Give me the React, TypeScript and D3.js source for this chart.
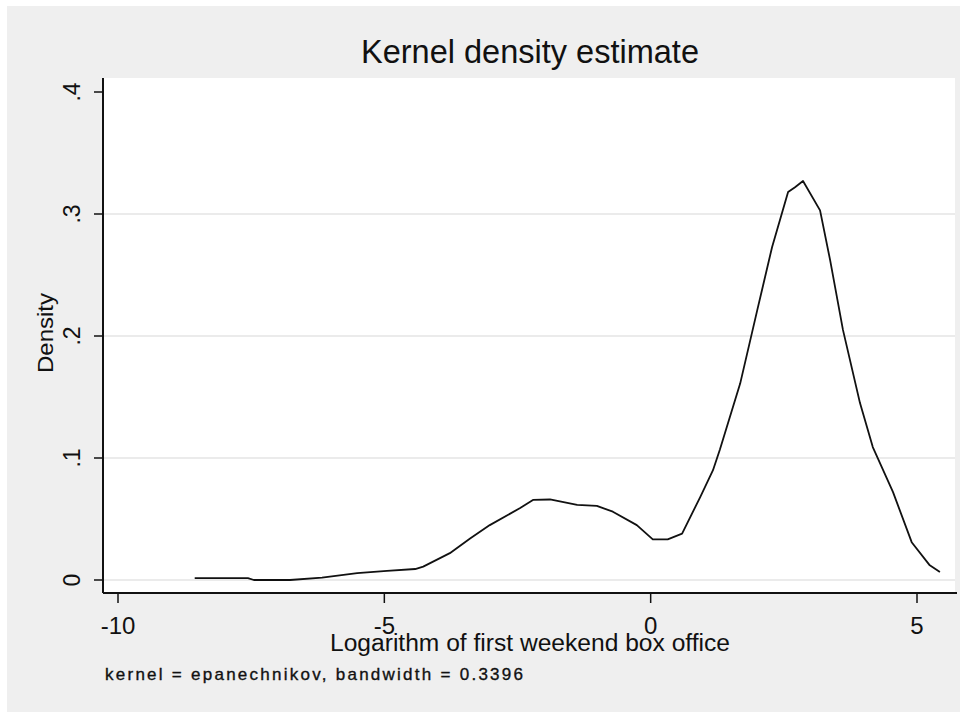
import React from "react";
import * as d3 from "d3";

const xValues = [-8.56, -7.56, -7.45, -6.77, -6.17, -5.51, -4.95, -4.42, -4.27, -3.77, -3.39, -3.02, -2.45, -2.21, -1.89, -1.38, -1.01, -0.71, -0.26, 0.04, 0.32, 0.59, 0.93, 1.17, 1.3, 1.68, 2.0, 2.28, 2.46, 2.58, 2.71, 2.86, 3.18, 3.37, 3.61, 3.93, 4.17, 4.55, 4.9, 5.24, 5.43];
const densityValues = [0.0016, 0.0016, 0.0, 0.0, 0.002, 0.0057, 0.0074, 0.009, 0.011, 0.022, 0.034, 0.045, 0.059, 0.0656, 0.066, 0.0615, 0.0607, 0.056, 0.045, 0.0333, 0.0333, 0.038, 0.068, 0.09, 0.107, 0.161, 0.221, 0.273, 0.3, 0.318, 0.322, 0.327, 0.303, 0.262, 0.205, 0.145, 0.109, 0.072, 0.031, 0.012, 0.0066];
const xTicks = [-10, -5, 0, 5];
const xTickLabels = ["-10", "-5", "0", "5"];
const yTicks = [0, 0.1, 0.2, 0.3, 0.4];
const yTickLabels = ["0", ".1", ".2", ".3", ".4"];
const gridTicks = [0, 0.1, 0.2, 0.3];

const title = "Kernel density estimate";
const xTitle = "Logarithm of first weekend box office";
const yTitle = "Density";
const note = "kernel = epanechnikov, bandwidth = 0.3396";

export default function App() {
  const W = 970, H = 713;
  const left = 103, right = 955, top = 78, bottom = 593;
  const x = d3.scaleLinear().domain([-10, 5]).range([118, 917]);
  const y = d3.scaleLinear().domain([0, 0.4]).range([580, 92]);
  const pts: [number, number][] = xValues.map((v, i) => [v, densityValues[i]]);
  const line = d3.line<[number, number]>().x(d => x(d[0])).y(d => y(d[1])).curve(d3.curveLinear);
  const font = "'Liberation Sans', Arial, sans-serif";
  const ink = "#111";
  return (
    <svg width={W} height={H} style={{ position: "fixed", left: 0, top: 0 }} fontFamily={font}>
      <rect x={0} y={0} width={W} height={H} fill="#ffffff" />
      <rect x={7} y={6} width={953} height={706} fill="#efefef" />
      <rect x={left} y={top} width={right - left} height={bottom - top} fill="#ffffff" />
      {gridTicks.map(t => (
        <line key={"g" + t} x1={left} x2={right} y1={y(t)} y2={y(t)} stroke="#e4e4e4" strokeWidth={1.5} />
      ))}
      <path d={line(pts) || ""} fill="none" stroke={ink} strokeWidth={1.8} strokeLinejoin="round" />
      <line x1={left} x2={left} y1={top} y2={bottom} stroke={ink} strokeWidth={2} />
      <line x1={left} x2={right + 2} y1={bottom} y2={bottom} stroke={ink} strokeWidth={2} />
      {yTicks.map((t, i) => (
        <g key={"y" + t}>
          <line x1={left - 9} x2={left} y1={y(t)} y2={y(t)} stroke={ink} strokeWidth={1.5} />
          <text transform={`translate(${80},${y(t)}) rotate(-90)`} textAnchor="middle" fontSize={23} fill={ink}>{yTickLabels[i]}</text>
        </g>
      ))}
      {xTicks.map((t, i) => (
        <g key={"x" + t}>
          <line x1={x(t)} x2={x(t)} y1={bottom} y2={bottom + 10} stroke={ink} strokeWidth={1.5} />
          <text x={x(t)} y={634} textAnchor="middle" fontSize={24} fill={ink}>{xTickLabels[i]}</text>
        </g>
      ))}
      <text x={330} y={651} fontSize={23} fill={ink} textLength={400} lengthAdjust="spacingAndGlyphs">{xTitle}</text>
      <text transform={`translate(53,333) rotate(-90)`} textAnchor="middle" fontSize={22} fill={ink} textLength={80} lengthAdjust="spacingAndGlyphs">{yTitle}</text>
      <text x={361} y={63} fontSize={32.5} fill={ink} textLength={338} lengthAdjust="spacingAndGlyphs">{title}</text>
      <text x={105} y={680} fontSize={17} fill={ink} stroke={ink} strokeWidth={0.35} textLength={418} lengthAdjust="spacing">{note}</text>
    </svg>
  );
}
